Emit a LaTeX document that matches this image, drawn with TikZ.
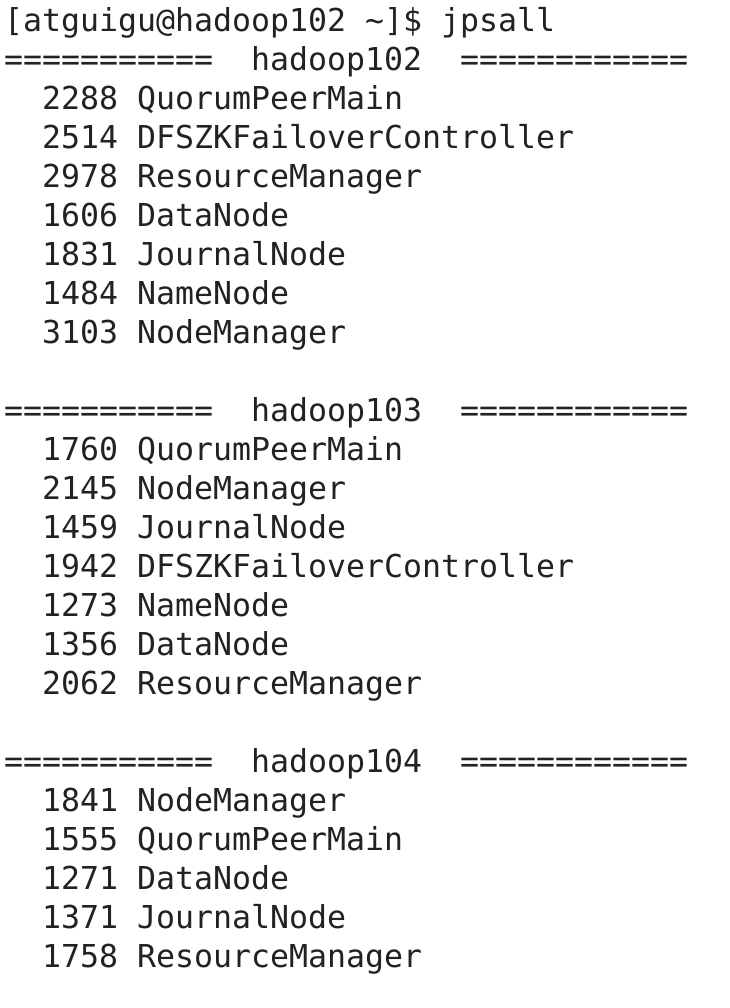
\documentclass[tikz,border=0pt]{standalone}
\usepackage{fontspec}
\newfontfamily\termmono{DejaVu Sans Mono}
\newcommand{\termfont}{\termmono\fontsize{31.56pt}{39pt}\selectfont}
\definecolor{termtext}{RGB}{34,34,34}
\begin{document}
\begin{tikzpicture}[x=1pt,y=-1pt]
        \fill[white] (0,0) rectangle (729,1008);
        \useasboundingbox (0,0) rectangle (729,1008);
        \begin{scope}[every node/.style={anchor=base west,inner sep=0pt,text=termtext,font=\termfont}]
            \node (prompt) at (4,31.5) {[atguigu@hadoop102 \textasciitilde]\$ jpsall};
            \node (H102) at (4,70.5) {===========~~hadoop102~~============};
            \node (A1) at (4,109.5) {~~2288 QuorumPeerMain};
            \node (A2) at (4,148.5) {~~2514 DFSZKFailoverController};
            \node (A3) at (4,187.5) {~~2978 ResourceManager};
            \node (A4) at (4,226.5) {~~1606 DataNode};
            \node (A5) at (4,265.5) {~~1831 JournalNode};
            \node (A6) at (4,304.5) {~~1484 NameNode};
            \node (A7) at (4,343.5) {~~3103 NodeManager};
            \node (H103) at (4,421.5) {===========~~hadoop103~~============};
            \node (B1) at (4,460.5) {~~1760 QuorumPeerMain};
            \node (B2) at (4,499.5) {~~2145 NodeManager};
            \node (B3) at (4,538.5) {~~1459 JournalNode};
            \node (B4) at (4,577.5) {~~1942 DFSZKFailoverController};
            \node (B5) at (4,616.5) {~~1273 NameNode};
            \node (B6) at (4,655.5) {~~1356 DataNode};
            \node (B7) at (4,694.5) {~~2062 ResourceManager};
            \node (H104) at (4,772.5) {===========~~hadoop104~~============};
            \node (C1) at (4,811.5) {~~1841 NodeManager};
            \node (C2) at (4,850.5) {~~1555 QuorumPeerMain};
            \node (C3) at (4,889.5) {~~1271 DataNode};
            \node (C4) at (4,928.5) {~~1371 JournalNode};
            \node (C5) at (4,967.5) {~~1758 ResourceManager};
        \end{scope}
    \end{tikzpicture}
\end{document}
